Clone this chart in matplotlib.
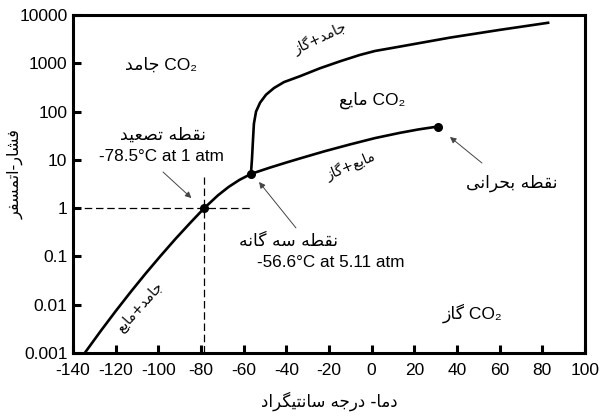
import matplotlib
matplotlib.use("Agg")
import matplotlib.pyplot as plt
from matplotlib.ticker import FixedLocator, FixedFormatter, NullLocator

# --- data -----------------------------------------------------------------
x_ticks = [-140, -120, -100, -80, -60, -40, -20, 0, 20, 40, 60, 80, 100]
y_ticks = [0.001, 0.01, 0.1, 1, 10, 100, 1000, 10000]
y_tick_labels = ["0.001", "0.01", "0.1", "1", "10", "100", "1000", "10000"]

# sublimation curve (solid/gas)
sub_T = [-134.5, -127, -120, -113, -106, -99, -92, -85, -78.5, -72, -67, -62, -56.6]
sub_P = [0.001, 0.00286, 0.00736, 0.0183, 0.044, 0.102, 0.23, 0.498, 1.0, 1.85, 2.76, 3.84, 5.11]

# melting curve (solid/liquid)
melt_T = [-56.6, -56.1, -55.6, -55.2, -54.2, -52.3, -49.5, -45.8, -41.1,
          -33.6, -24.2, -14.8, -5.5, 1.6, 8.6, 13.3, 36.7, 60.2, 82.7]
melt_P = [5.11, 10.5, 27.4, 56, 100, 153, 224, 307, 408,
          540, 790, 1100, 1490, 1800, 2040, 2220, 3400, 4930, 6900]

# vaporisation curve (liquid/gas)
lv_T = [-56.6, -48, -40, -33.6, -22, -10.1, 1.5, 13.3, 22, 31]
lv_P = [5.11, 6.84, 8.81, 10.7, 15.1, 20.9, 28.2, 36.3, 42.7, 49]

subl_pt = (-78.5, 1.0)
triple_pt = (-56.6, 5.11)
crit_pt = (31, 49)

# --- minimal Persian shaping (presentation forms, visual order) -------------
FORMS = {
    "ا": "FE8D FE8E", "ب": "FE8F FE90 FE91 FE92", "ت": "FE95 FE96 FE97 FE98",
    "ج": "FE9D FE9E FE9F FEA0", "ح": "FEA1 FEA2 FEA3 FEA4", "د": "FEA9 FEAA",
    "ر": "FEAD FEAE", "ز": "FEAF FEB0", "س": "FEB1 FEB2 FEB3 FEB4",
    "ش": "FEB5 FEB6 FEB7 FEB8", "ص": "FEB9 FEBA FEBB FEBC", "ط": "FEC1 FEC2 FEC3 FEC4",
    "ع": "FEC9 FECA FECB FECC", "ف": "FED1 FED2 FED3 FED4", "ق": "FED5 FED6 FED7 FED8",
    "م": "FEE1 FEE2 FEE3 FEE4", "ن": "FEE5 FEE6 FEE7 FEE8", "ه": "FEE9 FEEA FEEB FEEC",
    "ی": "FBFC FBFD FBFE FBFF", "گ": "FB92 FB93 FB94 FB95",
}
FORMS = {k: [chr(int(h, 16)) for h in v.split()] for k, v in FORMS.items()}


def dual(c):
    return c in FORMS and len(FORMS[c]) == 4


def fa(s):
    """logical Persian string -> shaped, right-to-left visual string"""
    out = []
    for i, c in enumerate(s):
        if c not in FORMS:
            out.append(c)
            continue
        prev = s[i - 1] if i > 0 else ""
        nxt = s[i + 1] if i + 1 < len(s) else ""
        jp = dual(prev)
        jn = dual(c) and nxt in FORMS
        f = FORMS[c]
        if jp and jn:
            out.append(f[3])
        elif jp:
            out.append(f[1])
        elif jn:
            out.append(f[2])
        else:
            out.append(f[0])
    return "".join(reversed(out))


LAT = "Liberation Sans"
FA = "DejaVu Sans"
INK = "black"

fig = plt.figure(figsize=(6.01, 4.16), dpi=100)
ax = fig.add_axes([73 / 601, 1 - 353 / 416, 512 / 601, 338 / 416])
ax.set_yscale("log")
ax.set_xlim(-140, 100)
ax.set_ylim(0.001, 10000)

ax.plot(sub_T, sub_P, color=INK, lw=1.9, solid_capstyle="butt", solid_joinstyle="round", zorder=3)
ax.plot(melt_T, melt_P, color=INK, lw=1.9, solid_joinstyle="round", zorder=3)
ax.plot(lv_T, lv_P, color=INK, lw=1.9, solid_joinstyle="round", zorder=3)
for pt in (subl_pt, triple_pt, crit_pt):
    ax.plot(*pt, "o", color=INK, ms=5.5, zorder=4)

# 1 atm guide lines
ax.plot([-140, -56], [subl_pt[1]] * 2, color=INK, lw=0.9, dashes=(6, 3), zorder=2)
ax.plot([subl_pt[0]] * 2, [0.001, 4.5], color=INK, lw=0.9, dashes=(6, 3), zorder=2)

# axes styling
for s in ax.spines.values():
    s.set_linewidth(2.2)
ax.xaxis.set_major_locator(FixedLocator(x_ticks))
ax.xaxis.set_major_formatter(FixedFormatter([str(t) for t in x_ticks]))
ax.yaxis.set_major_locator(FixedLocator(y_ticks))
ax.yaxis.set_major_formatter(FixedFormatter(y_tick_labels))
ax.yaxis.set_minor_locator(NullLocator())
ax.tick_params(direction="in", length=6, width=2.2, labelsize=12.5)
ax.tick_params(axis="x", pad=7)
ax.tick_params(axis="y", pad=4)
for lab in ax.get_xticklabels() + ax.get_yticklabels():
    lab.set_family(LAT)

ax.set_xlabel(fa("دما- درجه سانتیگراد"), family=FA, fontsize=12, labelpad=10)
ax.set_ylabel(fa("فشار-اتمسفر"), family=FA, fontsize=11.5)
ax.yaxis.set_label_coords(-0.097, 0.53)

# region labels
ax.text(-98.7, 923, fa("جامد") + " CO₂", family=[LAT, FA], fontsize=12.5, ha="center", va="center")
ax.text(0.2, 174, fa("مایع") + " CO₂", family=[LAT, FA], fontsize=12.5, ha="center", va="center")
ax.text(47.5, 0.0068, fa("گاز") + " CO₂", family=[LAT, FA], fontsize=12.5, ha="center", va="center")

# two-phase labels along the curves
ax.text(-24.2, 3340, fa("جامد+گاز"), family=FA, fontsize=10, rotation=25,
        ha="center", va="center")
ax.text(-9.7, 7.5, fa("مایع+گاز"), family=FA, fontsize=10, rotation=23,
        ha="center", va="center")
ax.text(-108.6, 0.009, fa("جامد+مایع"), family=FA, fontsize=10, rotation=48,
        ha="center", va="center")

# point annotations
ax.text(-97.8, 32.8, fa("نقطه تصعید"), family=FA, fontsize=12.5, ha="center", va="center")
ax.text(-98.7, 11.5, "-78.5°C at 1 atm", family=LAT, fontsize=12.3, ha="center", va="center")
ax.text(-39.2, 0.21, fa("نقطه سه گانه"), family=FA, fontsize=12.3, ha="center", va="center")
ax.text(-19, 0.0733, "-56.6°C at 5.11 atm", family=LAT, fontsize=12.3, ha="center", va="center")
ax.text(65.8, 3.33, fa("نقطه بحرانی"), family=FA, fontsize=12.3, ha="center", va="center")

arw = dict(arrowstyle="-|>", color="#444444", lw=0.7, mutation_scale=9, shrinkA=0, shrinkB=0)
ax.annotate("", xy=(-84.5, 1.62), xytext=(-97.8, 5.6), arrowprops=arw)
ax.annotate("", xy=(-52.8, 3.48), xytext=(-35.5, 0.39), arrowprops=arw)
ax.annotate("", xy=(36.7, 29.8), xytext=(51.7, 8.6), arrowprops=arw)

fig.savefig("out.png", dpi=100, facecolor="white")
